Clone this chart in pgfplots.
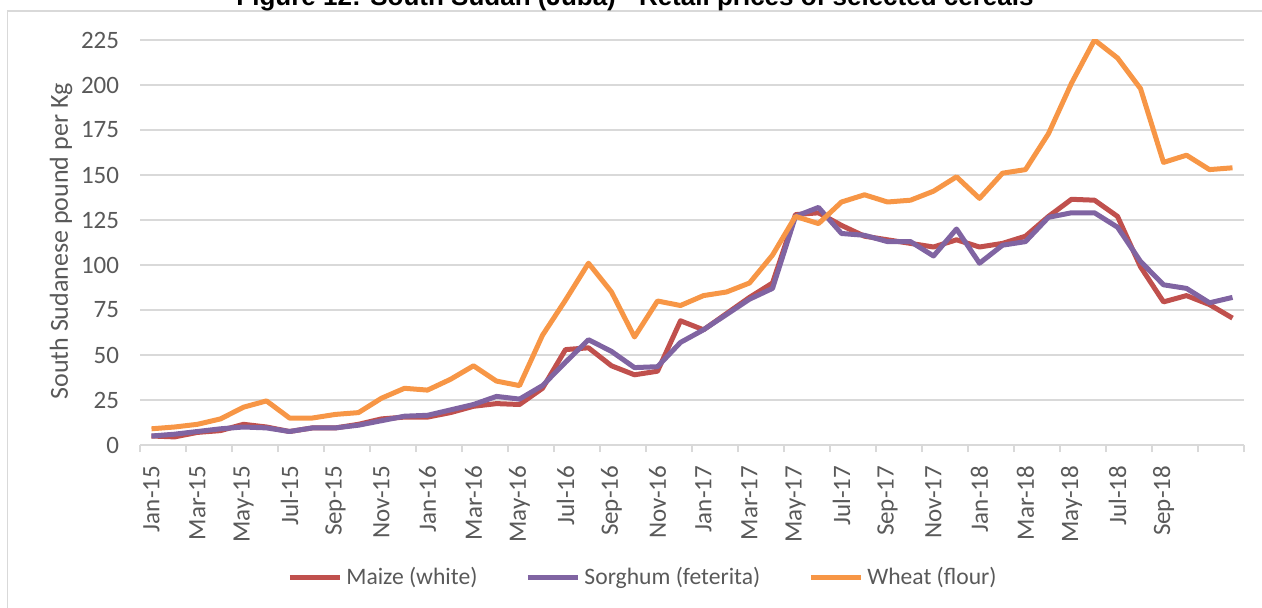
\documentclass[border=0pt]{standalone}
\usepackage{fontspec}
\setmainfont{Carlito}
\newfontfamily\titlefont{Liberation Sans}
\usepackage{pgfplots}
\pgfplotsset{compat=1.18}
\usepackage{pgfplotstable}
\definecolor{maize}{HTML}{C0504D}
\definecolor{sorghum}{HTML}{8064A2}
\definecolor{wheat}{HTML}{F79646}
\definecolor{gridgray}{HTML}{D9D9D9}
\definecolor{txtgray}{HTML}{595959}

\pgfplotstableread{
i maize sorghum wheat
0 5 5 9
1 4.5 6 10
2 7 7.5 11.5
3 8 9 14.5
4 11.5 10 21
5 10 9.5 24.5
6 7.5 7.5 15
7 9.5 9.5 15
8 9.5 9.5 17
9 11.5 11 18
10 14.5 13.5 26
11 15.5 16 31.5
12 15.5 16.5 30.5
13 18 19.5 36.5
14 21.5 22.5 44
15 23 27 35.5
16 22.5 25.5 33
17 31.5 33 61
18 53 46 80.5
19 54 58.5 101
20 44 52 85
21 39 43 60
22 41 43.5 80
23 69 57 77.5
24 64 64 83
25 73 72.5 85
26 82 81 90
27 90 87 105.5
28 128 127 127
29 129 132 123
30 122 117.5 135
31 116 116.5 139
32 114 113 135
33 112 113 136
34 110 105 141
35 114 120 149
36 110 101 137
37 112 111 151
38 116 113 153
39 127 126.5 173
40 136.5 129 201
41 136 129 225
42 127 121 215
43 99 102 198
44 79.5 89 157
45 83 87 161
46 78 79 153
47 70.5 82 154
}\datatable

\begin{document}
\begin{tikzpicture}
\useasboundingbox (0pt,0pt) rectangle (631pt,-304pt);
\draw[gridgray, line width=0.75pt] (3.75pt,-5.5pt) rectangle (700pt,-400pt);
\node[anchor=base, inner sep=0pt] at (317.5pt,-3pt) {\titlefont\bfseries\fontsize{13}{15}\selectfont Figure 12: South Sudan (Juba) - Retail prices of selected cereals};
\begin{axis}[
  at={(70pt,-222.5pt)}, anchor=south west,
  scale only axis, width=552pt, height=202.5pt,
  xmin=-0.5, xmax=47.5, ymin=0, ymax=225,
  axis x line*=bottom, axis y line*=left,
  y axis line style={draw=none},
  x axis line style={gridgray, line width=0.75pt},
  ytick={0,25,...,225},
  ytick style={draw=none},
  ymajorgrids, grid style={gridgray, line width=0.75pt},
  xtick={0,2,...,46},
  xticklabels={Jan-15,Mar-15,May-15,Jul-15,Sep-15,Nov-15,Jan-16,Mar-16,May-16,Jul-16,Sep-16,Nov-16,Jan-17,Mar-17,May-17,Jul-17,Sep-17,Nov-17,Jan-18,Mar-18,May-18,Jul-18,Sep-18,{}},
  major x tick style={draw=none},
  minor xtick={-0.5,1.5,...,47.5},
  minor x tick style={gridgray, line width=0.75pt},
  minor tick length=3.5pt,
  tick align=outside, xtick pos=lower,
  /pgf/number format/assume math mode=true,
  tick label style={font=\fontsize{12.5}{14}\selectfont, text=txtgray},
  xticklabel style={rotate=90, anchor=east, inner sep=0pt},
  xticklabel shift=6pt,
  yticklabel style={anchor=east, inner sep=0pt},
  yticklabel shift=6pt,
  ylabel={South Sudanese pound per Kg},
  ylabel style={font=\fontsize{13}{15}\selectfont, text=txtgray, at={(axis description cs:-0.0715,0.503)}, anchor=center, rotate=0},
  legend style={at={(axis description cs:0.4565,-0.326)}, anchor=center, draw=none, fill=none,
    font=\fontsize{11.8}{14}\selectfont, text=txtgray, legend columns=3,
    /tikz/every even column/.append style={column sep=22pt}},
  legend image code/.code={\draw[#1] (0pt,0pt) -- (25pt,0pt);},
  every axis plot/.append style={line width=2.5pt, line join=round, no markers},
]
\addplot[maize] table[x=i, y=maize] {\datatable};
\addlegendentry{Maize (white)}
\addplot[sorghum] table[x=i, y=sorghum] {\datatable};
\addlegendentry{Sorghum (feterita)}
\addplot[wheat] table[x=i, y=wheat] {\datatable};
\addlegendentry{Wheat (flour)}
\end{axis}
\end{tikzpicture}
\end{document}
